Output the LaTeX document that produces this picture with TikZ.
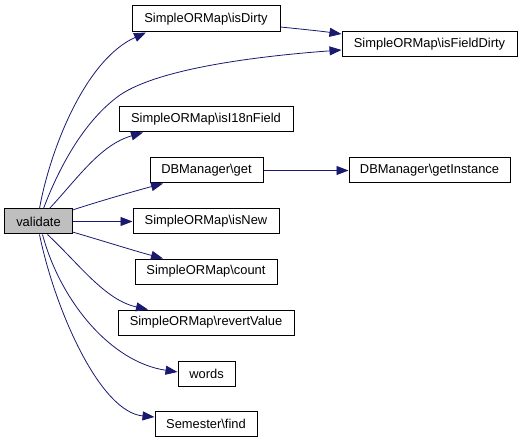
\documentclass[tikz,border=0pt]{standalone}
\usepackage{fontspec}
\setmainfont{Liberation Sans}
\usetikzlibrary{arrows.meta}
\definecolor{edgeblue}{HTML}{191970}
\definecolor{rootgray}{HTML}{BFBFBF}
\begin{document}
\begin{tikzpicture}[x=1bp,y=-1bp,
  fn/.style={draw=black,line width=1bp,inner sep=0pt,minimum height=25bp,
    font=\fontsize{12.9bp}{15bp}\selectfont,text=black},
  call/.style={draw=edgeblue,line width=0.8bp,
    -{Triangle[length=12bp,width=9bp,fill=edgeblue]}}]
\useasboundingbox (0,0) rectangle (528,443);
\node[fn,fill=rootgray,minimum width=67bp] (v) at (38.5,221.5) {validate};
\node[fn,minimum width=148bp,minimum height=26bp] (dirty) at (206,19) {SimpleORMap\textbackslash isDirty};
\node[fn,minimum width=175bp] (fdirty) at (429.5,44.5) {SimpleORMap\textbackslash isFieldDirty};
\node[fn,minimum width=174bp] (i18n) at (206,119.5) {SimpleORMap\textbackslash isI18nField};
\node[fn,minimum width=113bp] (get) at (206.5,170.5) {DBManager\textbackslash get};
\node[fn,minimum width=161bp] (inst) at (429.5,170.5) {DBManager\textbackslash getInstance};
\node[fn,minimum width=146bp] (new) at (206,221.5) {SimpleORMap\textbackslash isNew};
\node[fn,minimum width=142bp] (count) at (206,271.5) {SimpleORMap\textbackslash count};
\node[fn,minimum width=176bp] (revert) at (206,322.5) {SimpleORMap\textbackslash revertValue};
\node[fn,minimum width=57bp] (words) at (206.5,373.5) {words};
\node[fn,minimum width=102bp] (find) at (206,423.5) {Semester\textbackslash find};
% edges
\draw[call] (v.north west) ++(35,0) coordinate (s1)
  (s1) .. controls (50,150) and (85,60) .. (dirty.south west -| 146,0) ;
\draw[call] (v.north west) ++(39,0) coordinate (s2)
  (s2) .. controls (60,165) and (85,120) .. (120,95) .. controls (160,68) and (260,56) .. (fdirty.west |- 0,50);
\draw[call] (v.north west) ++(45,0) coordinate (s3)
  (s3) .. controls (78,178) and (100,145) .. (i18n.south west -| 143,0);
\draw[call] (v.east |- 0,210) .. controls (100,201) and (135,191) .. (get.south west -| 163,0);
\draw[call] (v.east) -- (new.west);
\draw[call] (v.east |- 0,232) .. controls (100,240) and (135,251) .. (count.north west -| 163,0);
\draw[call] (v.south west) ++(43,0) coordinate (s4)
  (s4) .. controls (80,265) and (105,300) .. (revert.north west -| 148,0);
\draw[call] (v.south west) ++(38,0) coordinate (s5)
  (s5) .. controls (60,300) and (110,362) .. (words.west |- 0,372);
\draw[call] (v.south west) ++(35,0) coordinate (s6)
  (s6) .. controls (55,310) and (100,412) .. (find.west |- 0,417);
\draw[call] (dirty.east |- 0,27) .. controls (300,29) and (320,31) .. (fdirty.west |- 0,34);
\draw[call] (get.east) -- (inst.west);
\end{tikzpicture}
\end{document}
